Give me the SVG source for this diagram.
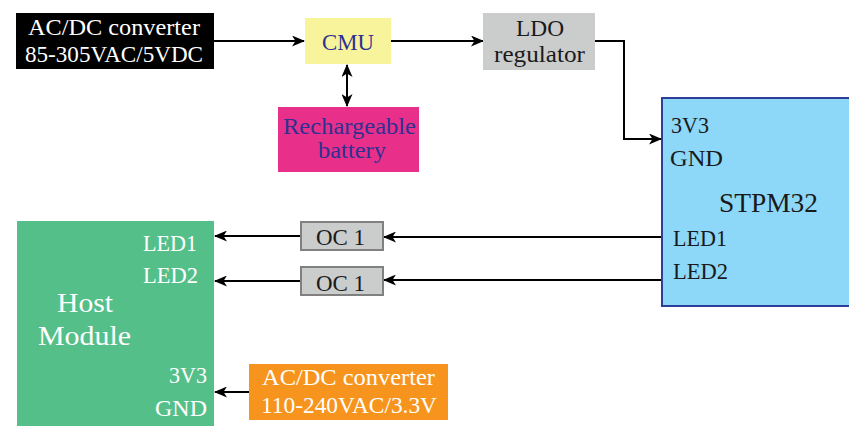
<svg xmlns="http://www.w3.org/2000/svg" width="849" height="426" viewBox="0 0 849 426">
<style>
text{font-family:"Liberation Serif","DejaVu Serif",serif;font-size:23px}
text.big{font-size:28px}
.w{fill:#fff}.b{fill:#1a1a1a}.blue{fill:#2e3192}
.c{fill:none;stroke:#000;stroke-width:2}
</style>
<defs>
<marker id="ah" viewBox="0 0 13 11" refX="12" refY="5.5" markerWidth="13" markerHeight="11" markerUnits="userSpaceOnUse" orient="auto-start-reverse">
<path d="M0,0 L13,5.5 L0,11 L3.5,5.5 Z" fill="#000"/>
</marker>
</defs>
<rect width="849" height="426" fill="#fff"/>
<g id="connectors">
<path class="c" d="M214,41 H304" marker-end="url(#ah)"/>
<path class="c" d="M391,41 H483" marker-end="url(#ah)"/>
<path class="c" d="M595,41 H624 V139 H661" marker-end="url(#ah)"/>
<path class="c" d="M347,65 V106" marker-start="url(#ah)" marker-end="url(#ah)"/>
<path class="c" d="M662,237 H384" marker-end="url(#ah)"/>
<path class="c" d="M662,280 H384" marker-end="url(#ah)"/>
<path class="c" d="M300,236 H215" marker-end="url(#ah)"/>
<path class="c" d="M300,281 H215" marker-end="url(#ah)"/>
<path class="c" d="M249,392 H215" marker-end="url(#ah)"/>
</g>
<g id="acdc1">
<rect x="16" y="13" width="198" height="56" fill="#000"/>
<text class="w" x="28" y="35" textLength="172" lengthAdjust="spacingAndGlyphs">AC/DC converter</text>
<text class="w" x="25" y="62" textLength="178" lengthAdjust="spacingAndGlyphs">85-305VAC/5VDC</text>
</g>
<g id="cmu">
<rect x="305" y="18" width="86" height="46" fill="#f8f49c"/>
<text class="blue" x="322" y="50" textLength="52" lengthAdjust="spacingAndGlyphs">CMU</text>
</g>
<g id="battery">
<rect x="278" y="107" width="141" height="65" fill="#e8308b"/>
<text class="blue" x="283" y="134" textLength="133" lengthAdjust="spacingAndGlyphs">Rechargeable</text>
<text class="blue" x="318" y="158" textLength="68" lengthAdjust="spacingAndGlyphs">battery</text>
</g>
<g id="ldo">
<rect x="483" y="13" width="112" height="57" fill="#cbcccc"/>
<text class="b" x="516" y="36" textLength="48" lengthAdjust="spacingAndGlyphs">LDO</text>
<text class="b" x="494" y="62" textLength="91" lengthAdjust="spacingAndGlyphs">regulator</text>
</g>
<g id="stpm32">
<rect x="662" y="98" width="190" height="208" fill="#8dd8f8" stroke="#2e3f9a" stroke-width="2"/>
<text class="b" x="671" y="133" textLength="38" lengthAdjust="spacingAndGlyphs">3V3</text>
<text class="b" x="670" y="166" textLength="53" lengthAdjust="spacingAndGlyphs">GND</text>
<text class="b big" x="719" y="212" textLength="99" lengthAdjust="spacingAndGlyphs">STPM32</text>
<text class="b" x="673" y="246" textLength="54" lengthAdjust="spacingAndGlyphs">LED1</text>
<text class="b" x="673" y="279" textLength="55" lengthAdjust="spacingAndGlyphs">LED2</text>
</g>
<g id="oc1a">
<rect x="301" y="222" width="82" height="28" fill="#cbcccc" stroke="#808080" stroke-width="2"/>
<text class="b" x="316" y="245" textLength="49" lengthAdjust="spacingAndGlyphs">OC 1</text>
</g>
<g id="oc1b">
<rect x="301" y="267" width="82" height="28" fill="#cbcccc" stroke="#808080" stroke-width="2"/>
<text class="b" x="316" y="291" textLength="49" lengthAdjust="spacingAndGlyphs">OC 1</text>
</g>
<g id="host">
<rect x="17" y="221" width="197" height="210" fill="#55bf8a"/>
<text class="w" x="143" y="251" textLength="54" lengthAdjust="spacingAndGlyphs">LED1</text>
<text class="w" x="143" y="283" textLength="55" lengthAdjust="spacingAndGlyphs">LED2</text>
<text class="w big" x="57" y="312" textLength="56" lengthAdjust="spacingAndGlyphs">Host</text>
<text class="w big" x="38" y="345" textLength="93" lengthAdjust="spacingAndGlyphs">Module</text>
<text class="w" x="169" y="383" textLength="38" lengthAdjust="spacingAndGlyphs">3V3</text>
<text class="w" x="155" y="416" textLength="52" lengthAdjust="spacingAndGlyphs">GND</text>
</g>
<g id="acdc2">
<rect x="249" y="364" width="199" height="56" fill="#f7941e"/>
<text class="w" x="262" y="385" textLength="173" lengthAdjust="spacingAndGlyphs">AC/DC converter</text>
<text class="w" x="261" y="413" textLength="176" lengthAdjust="spacingAndGlyphs">110-240VAC/3.3V</text>
</g>
</svg>
